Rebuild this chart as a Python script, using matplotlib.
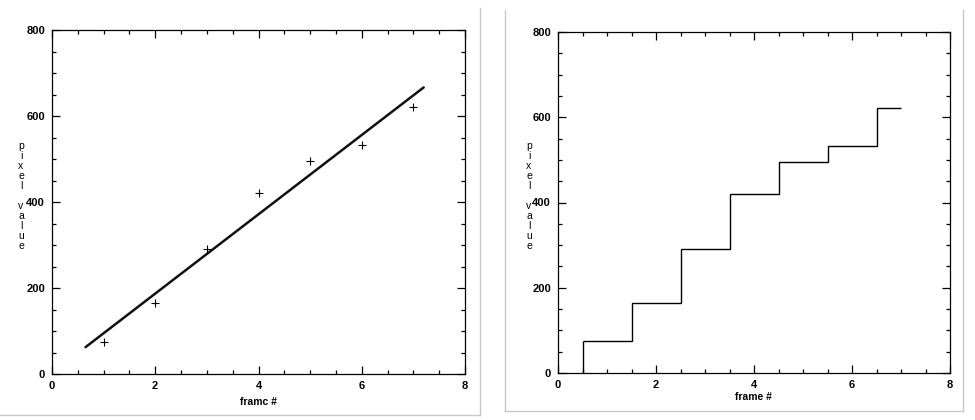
"""
Frame-by-frame pixel values: linear fit (left) and step histogram (right)
"""

import numpy as np
import matplotlib
matplotlib.use('Agg')
import matplotlib.pyplot as plt
from matplotlib.lines import Line2D
from matplotlib.ticker import MultipleLocator

# data
frames = np.array([1, 2, 3, 4, 5, 6, 7])
pixel_values = np.array([75, 165, 290, 420, 495, 533, 622])
fit_range = (0.65, 7.2)

x_ticks = [0, 2, 4, 6, 8]
y_ticks = [0, 200, 400, 600, 800]

FONT = ['Liberation Sans Narrow', 'Liberation Sans', 'DejaVu Sans']
plt.rcParams['font.family'] = FONT
BORDER = '#c8c8c8'


def style_axes(ax, xlabel, ylabel_x, xlabel_xy):
    ax.set_xlim(0, 8)
    ax.set_ylim(0, 800)
    ax.set_xticks(x_ticks)
    ax.set_yticks(y_ticks)
    ax.xaxis.set_minor_locator(MultipleLocator(0.5))
    ax.yaxis.set_minor_locator(MultipleLocator(50))
    ax.tick_params(which='both', direction='in', top=True, right=True,
                   width=0.9, color='black')
    ax.tick_params(which='major', length=6, labelsize=8, pad=5)
    ax.tick_params(which='minor', length=3)
    for lab in ax.get_xticklabels() + ax.get_yticklabels():
        lab.set_fontweight('bold')
    for sp in ax.spines.values():
        sp.set_linewidth(0.9)
    fig = ax.figure
    fig.text(xlabel_xy[0] / 975, 1 - xlabel_xy[1] / 420, xlabel,
             ha='center', va='center', fontsize=7.5, fontweight='bold')
    fig.text(ylabel_x / 975, 1 - 196 / 420, '\n'.join('pixel value'),
             ha='center', va='center', fontsize=7.5, linespacing=1.0)


fig = plt.figure(figsize=(9.75, 4.2), dpi=100)

# left panel: points and least-squares line
ax1 = fig.add_axes([52 / 975, 1 - 374 / 420, 413 / 975, 344 / 420])
slope, intercept = np.polyfit(frames, pixel_values, 1)
xf = np.array(fit_range)
ax1.plot(xf, slope * xf + intercept, color='#111111', lw=1.8,
         solid_capstyle='round')
ax1.plot(frames, pixel_values, '+', color='black', ms=6, mew=0.8)
style_axes(ax1, 'framc #', 21, (258, 402))

# right panel: histogram-style steps
ax2 = fig.add_axes([558 / 975, 1 - 373 / 420, 392 / 975, 341 / 420])
edges = np.r_[frames[0] - 0.5, (frames[:-1] + frames[1:]) / 2, frames[-1]]
ax2.stairs(pixel_values, edges, baseline=None, color='black', lw=1.0)
ax2.vlines(edges[0], 0, pixel_values[0], color='black', lw=1.0)
style_axes(ax2, 'frame #', 529, (753, 397))

# light panel borders
for (x0, y0, x1, y1) in [(480, 8, 480, 415), (0, 415, 480, 415),
                         (505, 10, 505, 411), (505, 411, 963, 411),
                         (963, 10, 963, 411)]:
    fig.add_artist(Line2D([x0 / 975, x1 / 975], [1 - y0 / 420, 1 - y1 / 420],
                          transform=fig.transFigure, color=BORDER, lw=1.0))

fig.savefig('out.png', dpi=100)
